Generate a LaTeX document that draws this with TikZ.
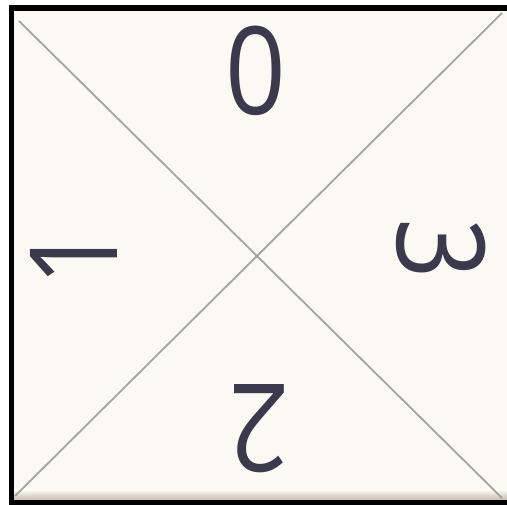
\documentclass[tikz,border=0pt]{standalone}
\usepackage{fontspec}
\setmainfont{Open Sans}
\definecolor{tile}{HTML}{FAF9F3}
\definecolor{digit}{HTML}{3A3A4C}
\definecolor{seam}{HTML}{A4A4A4}
\definecolor{edge}{HTML}{C8BAAE}
\begin{document}
\begin{tikzpicture}[x=1pt,y=-1pt,
  digitstyle/.style={text=digit,inner sep=0pt,font=\fontsize{122}{122}\selectfont},
  seamline/.style={draw=seam,line width=1.8pt}]
\useasboundingbox (0,0) rectangle (507,505);
\fill[white] (0,0) rectangle (507,505);
% tile
\fill[tile] (14,11) rectangle (507,500);
\shade[top color=tile,bottom color=edge] (14,490) rectangle (507,500);
% black frame (top, left, bottom)
\fill[black] (9,5) rectangle (507,11);
\fill[black] (9,5) rectangle (14,505);
\fill[black] (9,500) rectangle (507,505);
% corners
\coordinate (tl) at (19,21);
\coordinate (br) at (502,498);
\coordinate (tr) at (502,13);
\coordinate (bl) at (15,496);
\draw[seamline] (tl) -- (br);
\draw[seamline] (tr) -- (bl);
% digits
\node[digitstyle,xscale=0.87] (d0) at (256,71) {0};
\node[digitstyle,rotate=90,xscale=0.87] (d1) at (74,256) {1};
\node[digitstyle,rotate=-90,xscale=0.87] (d3) at (441,249) {3};
\node[digitstyle,rotate=180,xscale=0.87] (d2) at (259,429) {2};
\end{tikzpicture}
\end{document}
